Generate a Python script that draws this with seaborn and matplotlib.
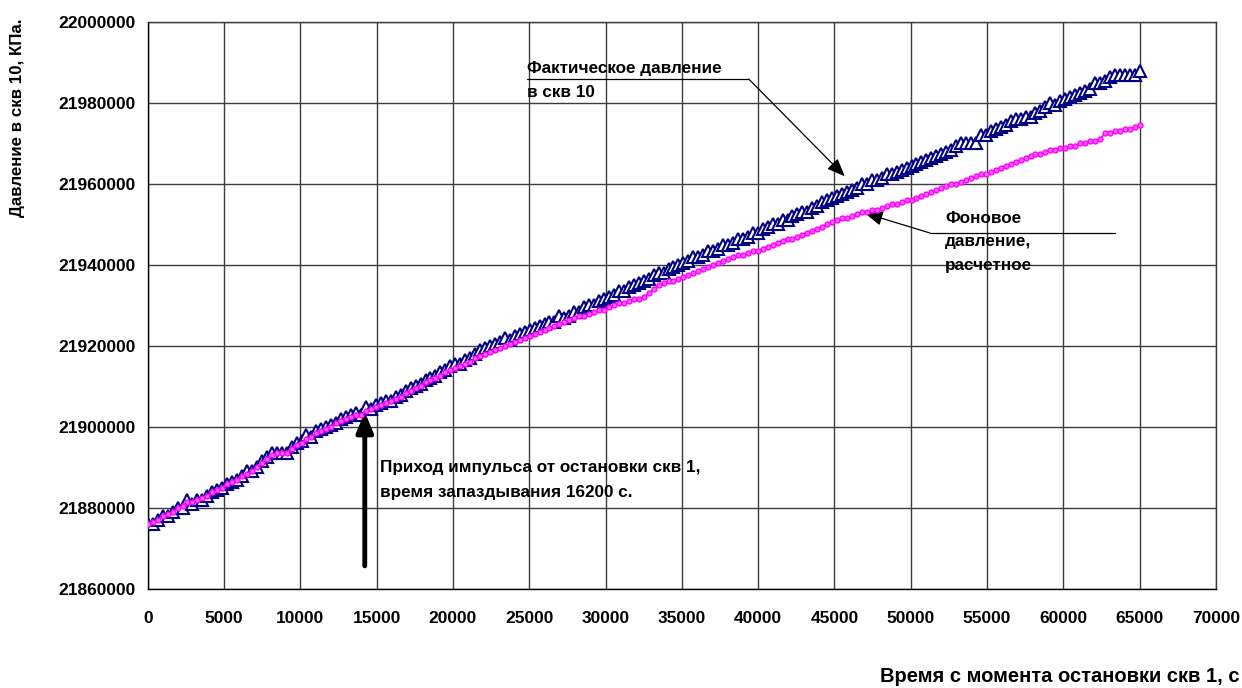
"""
Pressure in well 10 after shut-in of well 1: measured vs. background
"""
import numpy as np
import pandas as pd
import matplotlib
matplotlib.use('Agg')
import matplotlib.pyplot as plt
import matplotlib.ticker as ticker
import seaborn as sns

# sampling step of the record, s
sample_step_s = 325
time_s = np.arange(0, 65001, sample_step_s)

# measured pressure in well 10, kPa
fact_pressure = [
    21876000, 21876000, 21877000, 21878000, 21878000, 21879000, 21880000, 21880000, 21882000, 21881000,
    21882000, 21882000, 21883000, 21884000, 21884500, 21885000, 21886000, 21886500, 21887000, 21888000,
    21889000, 21889000, 21890000, 21891500, 21892500, 21893500, 21893500, 21893500, 21893500, 21895000,
    21896000, 21896500, 21898000, 21897500, 21899000, 21899500, 21900000, 21900500, 21901000, 21902000,
    21902500, 21903000, 21903500, 21903000, 21905000, 21904500, 21905500, 21906000, 21906500, 21906500,
    21907500, 21908000, 21909000, 21909500, 21910000, 21910500, 21911500, 21912000, 21912500, 21913500,
    21914000, 21915000, 21915500, 21915500, 21916500, 21917000, 21918000, 21919000, 21919500, 21920000,
    21920500, 21921000, 21922000, 21921500, 21922500, 21923000, 21923500, 21924000, 21924500, 21925000,
    21925500, 21926000, 21926000, 21927500, 21927000, 21927500, 21928500, 21928500, 21929500, 21930000,
    21930000, 21931000, 21931500, 21932000, 21932500, 21933500, 21933500, 21934500, 21935000, 21935500,
    21936000, 21936500, 21937500, 21938000, 21938000, 21939000, 21939500, 21940000, 21940500, 21941000,
    21942000, 21942000, 21942500, 21943500, 21943500, 21944000, 21945000, 21945000, 21945500, 21946500,
    21946500, 21947000, 21948000, 21948000, 21949000, 21949500, 21950000, 21950000, 21951000, 21951000,
    21952000, 21952500, 21953000, 21953000, 21954000, 21954500, 21955500, 21956000, 21956500, 21957000,
    21957500, 21958000, 21958500, 21959000, 21960000, 21960000, 21961000, 21961000, 21961500, 21962500,
    21962500, 21963000, 21963500, 21964000, 21964500, 21965000, 21965500, 21966000, 21966500, 21967000,
    21967500, 21968000, 21968500, 21969500, 21970000, 21970000, 21970000, 21970000, 21972000, 21972000,
    21973000, 21973500, 21974000, 21974500, 21975500, 21976000, 21976000, 21976500, 21976500, 21977500,
    21978000, 21979000, 21980000, 21979500, 21980500, 21981000, 21981500, 21982000, 21982500, 21983000,
    21983500, 21985000, 21985000, 21985500, 21986500, 21987000, 21987000, 21987000, 21987000, 21987000,
    21988000,
]

# background (calculated) pressure, kPa
background_pressure = [
    21876000, 21876500, 21877000, 21878000, 21878500, 21879000, 21880000, 21880500, 21881500, 21881500,
    21882000, 21882500, 21883000, 21884000, 21884500, 21885000, 21886000, 21886500, 21887000, 21888000,
    21888500, 21889000, 21890000, 21891000, 21892000, 21893000, 21893500, 21893500, 21893500, 21894500,
    21895500, 21896000, 21897000, 21897500, 21898500, 21899000, 21899500, 21900000, 21901000, 21901500,
    21902000, 21902500, 21903000, 21903000, 21904000, 21904500, 21905000, 21905500, 21906000, 21906500,
    21907000, 21907500, 21908500, 21909000, 21909500, 21910000, 21911000, 21911500, 21912000, 21912500,
    21913500, 21914000, 21914500, 21915000, 21915500, 21916000, 21917000, 21917500, 21918000, 21918500,
    21919000, 21919500, 21920000, 21920500, 21921000, 21921500, 21922000, 21922500, 21923000, 21923500,
    21924000, 21924500, 21925000, 21925500, 21926000, 21926500, 21927000, 21927500, 21927500, 21928000,
    21928500, 21929000, 21929000, 21929500, 21930000, 21930500, 21930500, 21931000, 21931500, 21931500,
    21932000, 21933000, 21934000, 21935000, 21935500, 21936000, 21936000, 21936500, 21937000, 21937500,
    21938000, 21938500, 21939000, 21939500, 21940000, 21940500, 21941000, 21941500, 21942000, 21942500,
    21942500, 21943000, 21943500, 21943500, 21944000, 21944500, 21945000, 21945500, 21946000, 21946500,
    21946500, 21947000, 21947500, 21948000, 21948500, 21949000, 21949500, 21950000, 21950500, 21951000,
    21951500, 21951500, 21952000, 21952500, 21953000, 21953000, 21953500, 21953500, 21954000, 21954500,
    21955000, 21955000, 21955500, 21956000, 21956000, 21956500, 21957000, 21957500, 21958000, 21958500,
    21959000, 21959500, 21960000, 21960000, 21960500, 21961000, 21961500, 21962000, 21962500, 21962500,
    21963000, 21963500, 21964000, 21964500, 21965000, 21965500, 21966000, 21966500, 21967000, 21967500,
    21967500, 21968000, 21968500, 21968500, 21969000, 21969000, 21969500, 21969500, 21970000, 21970000,
    21970500, 21970500, 21971000, 21972500, 21972500, 21973000, 21973000, 21973500, 21973500, 21974000,
    21974500,
]

df = pd.DataFrame({'time': time_s,
                   'fact': fact_pressure,
                   'background': background_pressure})

sns.set_style('white')
plt.rcParams['font.family'] = ['Liberation Sans', 'DejaVu Sans']
plt.rcParams['font.weight'] = 'bold'
plt.rcParams['text.color'] = 'black'
plt.rcParams['xtick.color'] = 'black'
plt.rcParams['ytick.color'] = 'black'

fig = plt.figure(figsize=(12.42, 6.88), dpi=100)
ax = fig.add_axes([0.119, 0.144, 0.860, 0.824])

sns.lineplot(data=df, x='time', y='fact', ax=ax, color='#000080', linewidth=1.2,
             marker='^', markersize=8, markerfacecolor='white',
             markeredgecolor='#000080', markeredgewidth=1.5, zorder=3)
sns.lineplot(data=df, x='time', y='background', ax=ax, color='#ff00ff', linewidth=1.2,
             marker='o', markersize=3.5, markerfacecolor='#ff66ff',
             markeredgecolor='#ff00ff', markeredgewidth=1, zorder=4)

ax.set_xlim(0, 70000)
ax.set_ylim(21860000, 22000000)
ax.xaxis.set_major_locator(ticker.MultipleLocator(5000))
ax.yaxis.set_major_locator(ticker.MultipleLocator(20000))
ax.yaxis.set_major_formatter(ticker.FormatStrFormatter('%d'))
ax.xaxis.set_major_formatter(ticker.FormatStrFormatter('%d'))
ax.grid(True, color='#3c3c3c', linewidth=1)
ax.set_axisbelow(True)
for sp in ax.spines.values():
    sp.set_color('#3c3c3c')
    sp.set_linewidth(1)
ax.spines['left'].set_color('black')
ax.spines['bottom'].set_color('black')
ax.tick_params(axis='both', direction='out', length=5, width=1, color='black',
               labelsize=12.5, labelcolor='black')
ax.tick_params(axis='x', pad=11)
ax.tick_params(axis='y', pad=4)
for lab in ax.get_xticklabels() + ax.get_yticklabels():
    lab.set_fontweight('bold')
ax.set_xlabel('')
ax.set_ylabel('')

fig.text(18 / 1242, 1 - 118 / 688, 'Давление в скв 10, КПа.', rotation=90,
         ha='center', va='center', fontsize=12.2, fontweight='bold')
fig.text(1239 / 1242, 1 - 676 / 688, 'Время с момента остановки скв 1, с',
         ha='right', va='center', fontsize=14.5, fontweight='bold')

# annotation: measured pressure
ax.text(24840, 21988600, 'Фактическое давление', fontsize=12.3, fontweight='bold',
        ha='left', va='center')
ax.text(24840, 21982700, 'в скв 10', fontsize=12.3, fontweight='bold',
        ha='left', va='center')
ax.plot([24840, 39390], [21985900, 21985900], color='black', linewidth=0.9)
ax.annotate('', xy=(45680, 21961900), xytext=(39390, 21985900),
            arrowprops=dict(arrowstyle='-|>,head_length=1.1,head_width=0.45',
                            color='black', linewidth=0.9, shrinkA=0, shrinkB=0))

# annotation: background pressure
for y, line in zip([21951400, 21945700, 21939800], ['Фоновое', 'давление,', 'расчетное']):
    ax.text(52240, y, line, fontsize=12.3, fontweight='bold', ha='left', va='center')
ax.plot([51255, 63380], [21947900, 21947900], color='black', linewidth=0.9)
ax.annotate('', xy=(46990, 21952800), xytext=(51255, 21947900),
            arrowprops=dict(arrowstyle='-|>,head_length=1.1,head_width=0.45',
                            color='black', linewidth=0.9, shrinkA=0, shrinkB=0))

# annotation: pulse arrival
ax.annotate('', xy=(14220, 21903700), xytext=(14220, 21865700),
            arrowprops=dict(arrowstyle='-|>,head_length=1.2,head_width=0.5',
                            color='black', linewidth=3.5, shrinkA=0, shrinkB=0))
ax.text(15200, 21889900, 'Приход импульса от остановки скв 1,', fontsize=12.3,
        fontweight='bold', ha='left', va='center')
ax.text(15200, 21883900, 'время запаздывания 16200 с.', fontsize=12.3,
        fontweight='bold', ha='left', va='center')

plt.savefig('out.png', dpi=100)
